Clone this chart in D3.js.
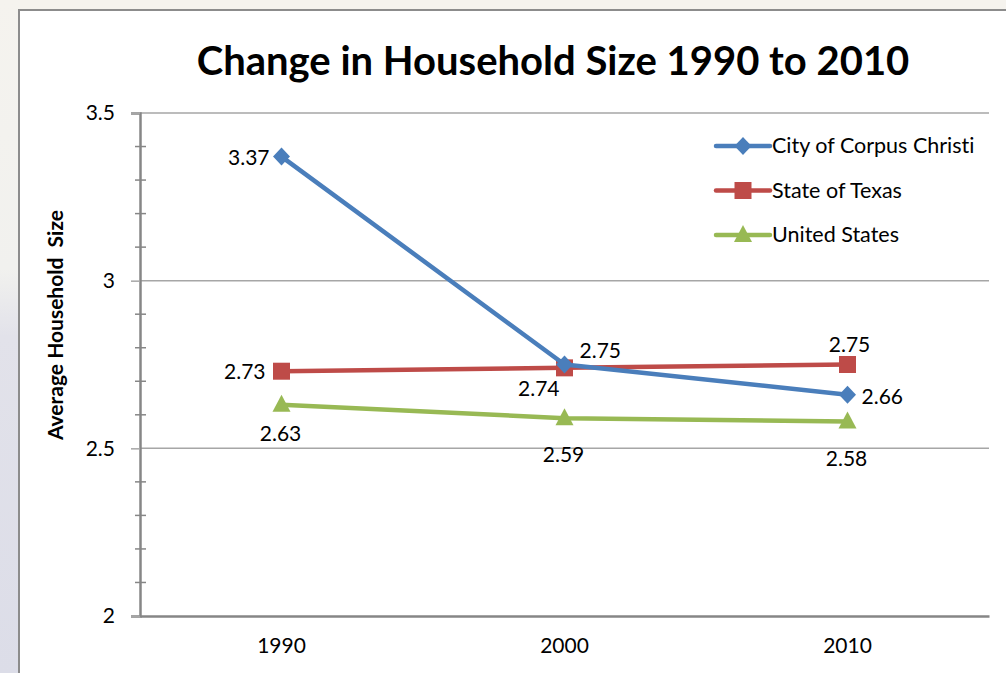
<!DOCTYPE html>
<html>
<head>
<meta charset="utf-8">
<script src="https://cdn.jsdelivr.net/npm/d3@7"></script>
<style>
  body { margin: 0; }
  svg { display: block; font-family: Lato, "Open Sans", sans-serif; font-variant-ligatures: none; }
</style>
</head>
<body>
<div id="chart"></div>
<script>
// data
var years = ["1990", "2000", "2010"];
var seriesNames = ["City of Corpus Christi", "State of Texas", "United States"];
var corpusChristi = [3.37, 2.75, 2.66];
var texas = [2.73, 2.74, 2.75];
var unitedStates = [2.63, 2.59, 2.58];
var yTicks = [2, 2.5, 3, 3.5];

var W = 1006, H = 673;
var colors = ["#4a7ebb", "#be4b48", "#98b954"];
var markers = ["diamond", "square", "triangle"];
// label placement for each point: [dx, dy, anchor]
var labelPos = [
  [[-12, 8, "end"], [15, -7, "start"], [14, 9, "start"]],
  [[-16, 8, "end"], [-5, 28, "end"], [2, -13, "middle"]],
  [[-1, 36, "middle"], [-1, 44, "middle"], [-1, 44, "middle"]]
];

var svg = d3.select("#chart").append("svg")
    .attr("width", W)
    .attr("height", H);

// page background
var defs = svg.append("defs");
var grad = defs.append("linearGradient").attr("id", "side")
    .attr("x1", 0).attr("y1", 0).attr("x2", 0).attr("y2", 1);
grad.append("stop").attr("offset", "0").attr("stop-color", "#f5f3ee");
grad.append("stop").attr("offset", "0.4").attr("stop-color", "#f1f1ee");
grad.append("stop").attr("offset", "0.5").attr("stop-color", "#e2e2ea");
grad.append("stop").attr("offset", "1").attr("stop-color", "#dcdde8");
svg.append("rect").attr("width", W).attr("height", H).attr("fill", "#f5f3ee");
svg.append("rect").attr("width", 20).attr("height", H).attr("fill", "url(#side)");

// chart frame
svg.append("rect")
    .attr("x", 19).attr("y", 10)
    .attr("width", W).attr("height", H)
    .attr("fill", "#fff")
    .attr("stroke", "#8c8c8c")
    .attr("stroke-width", 2);

var plotLeft = 140, plotRight = 989, plotTop = 113, plotBottom = 616;

var x = d3.scaleBand().domain(years).range([plotLeft, plotRight]);
var y = d3.scaleLinear().domain([2, 3.5]).range([plotBottom, plotTop]);
function cx(d) { return x(d) + x.bandwidth() / 2; }

// title
svg.append("text")
    .attr("x", 553).attr("y", 75)
    .attr("text-anchor", "middle")
    .style("font-size", "40px")
    .style("font-weight", "bold")
    .text("Change in Household Size 1990 to 2010");

// gridlines
svg.append("g")
    .selectAll("line")
    .data(yTicks.slice(1))
    .enter().append("line")
    .attr("x1", plotLeft).attr("x2", plotRight)
    .attr("y1", function(d) { return y(d); })
    .attr("y2", function(d) { return y(d); })
    .attr("stroke", "#a6a6a6")
    .attr("stroke-width", 1.5);

// minor ticks
var minor = d3.range(2.1, 3.5, 0.1).filter(function(v) {
  return Math.abs(v * 2 - Math.round(v * 2)) > 0.01;
});
svg.append("g")
    .selectAll("line")
    .data(minor)
    .enter().append("line")
    .attr("x1", plotLeft - 5).attr("x2", plotLeft + 6)
    .attr("y1", function(d) { return y(d); })
    .attr("y2", function(d) { return y(d); })
    .attr("stroke", "#868686")
    .attr("stroke-width", 1.5);

// y axis
var yAxis = svg.append("g")
    .attr("transform", "translate(" + plotLeft + ",0)")
    .call(d3.axisLeft(y).tickValues(yTicks).tickSize(9).tickPadding(16)
      .tickFormat(function(d) { return String(d); }));
yAxis.select(".domain").attr("stroke", "#868686").attr("stroke-width", 2.5);
yAxis.selectAll(".tick line").attr("stroke", "#a6a6a6").attr("stroke-width", 1.5);
yAxis.selectAll(".tick text")
    .style("font-size", "21px")
    .style("font-family", "Lato, sans-serif")
    .attr("fill", "#000");

// x axis
var xAxis = svg.append("g")
    .attr("transform", "translate(0," + plotBottom + ")")
    .call(d3.axisBottom(x).tickSize(0).tickPadding(22));
xAxis.select(".domain").attr("stroke", "#868686").attr("stroke-width", 2.5);
xAxis.selectAll(".tick text")
    .style("font-size", "21px")
    .style("font-family", "Lato, sans-serif")
    .attr("fill", "#000");

// y axis title
svg.append("text")
    .attr("transform", "translate(63,325) rotate(-90)")
    .attr("text-anchor", "middle")
    .style("font-size", "21px")
    .style("font-weight", "bold")
    .style("white-space", "pre")
    .text("Average Household  Size");

function markerPath(type, px, py) {
  var p = d3.path();
  if (type === "diamond") {
    p.moveTo(px, py - 9); p.lineTo(px + 8.5, py); p.lineTo(px, py + 9); p.lineTo(px - 8.5, py);
  } else if (type === "square") {
    p.rect(px - 8.5, py - 8.5, 17, 17);
  } else {
    p.moveTo(px, py - 10); p.lineTo(px + 9, py + 7); p.lineTo(px - 9, py + 7);
  }
  p.closePath();
  return p.toString();
}

var series = [corpusChristi, texas, unitedStates];
var line = d3.line()
    .x(function(d, i) { return cx(years[i]); })
    .y(function(d) { return y(d); });

// draw series: US first so Corpus Christi lies on top
[2, 1, 0].forEach(function(s) {
  var g = svg.append("g");
  g.append("path")
      .datum(series[s])
      .attr("d", line)
      .attr("fill", "none")
      .attr("stroke", colors[s])
      .attr("stroke-width", 4.5)
      .attr("stroke-linejoin", "round");
  g.selectAll("path.m")
      .data(series[s])
      .enter().append("path")
      .attr("class", "m")
      .attr("d", function(d, i) { return markerPath(markers[s], cx(years[i]), y(d)); })
      .attr("fill", colors[s]);
  g.selectAll("text")
      .data(series[s])
      .enter().append("text")
      .attr("x", function(d, i) { return cx(years[i]) + labelPos[s][i][0]; })
      .attr("y", function(d, i) { return y(d) + labelPos[s][i][1]; })
      .attr("text-anchor", function(d, i) { return labelPos[s][i][2]; })
      .style("font-size", "21px")
      .text(function(d) { return d.toFixed(2); });
});

// legend
var legend = svg.append("g")
    .selectAll("g")
    .data(seriesNames)
    .enter().append("g")
    .attr("transform", function(d, i) { return "translate(716," + (146 + i * 44.5) + ")"; });
legend.append("line")
    .attr("x1", 0).attr("x2", 54)
    .attr("stroke", function(d, i) { return colors[i]; })
    .attr("stroke-width", 4.5)
    .attr("stroke-linecap", "round");
legend.append("path")
    .attr("d", function(d, i) { return markerPath(markers[i], 27, 0); })
    .attr("fill", function(d, i) { return colors[i]; });
legend.append("text")
    .attr("x", 56).attr("y", 7)
    .style("font-size", "21.5px")
    .text(function(d) { return d; });
</script>
</body>
</html>
